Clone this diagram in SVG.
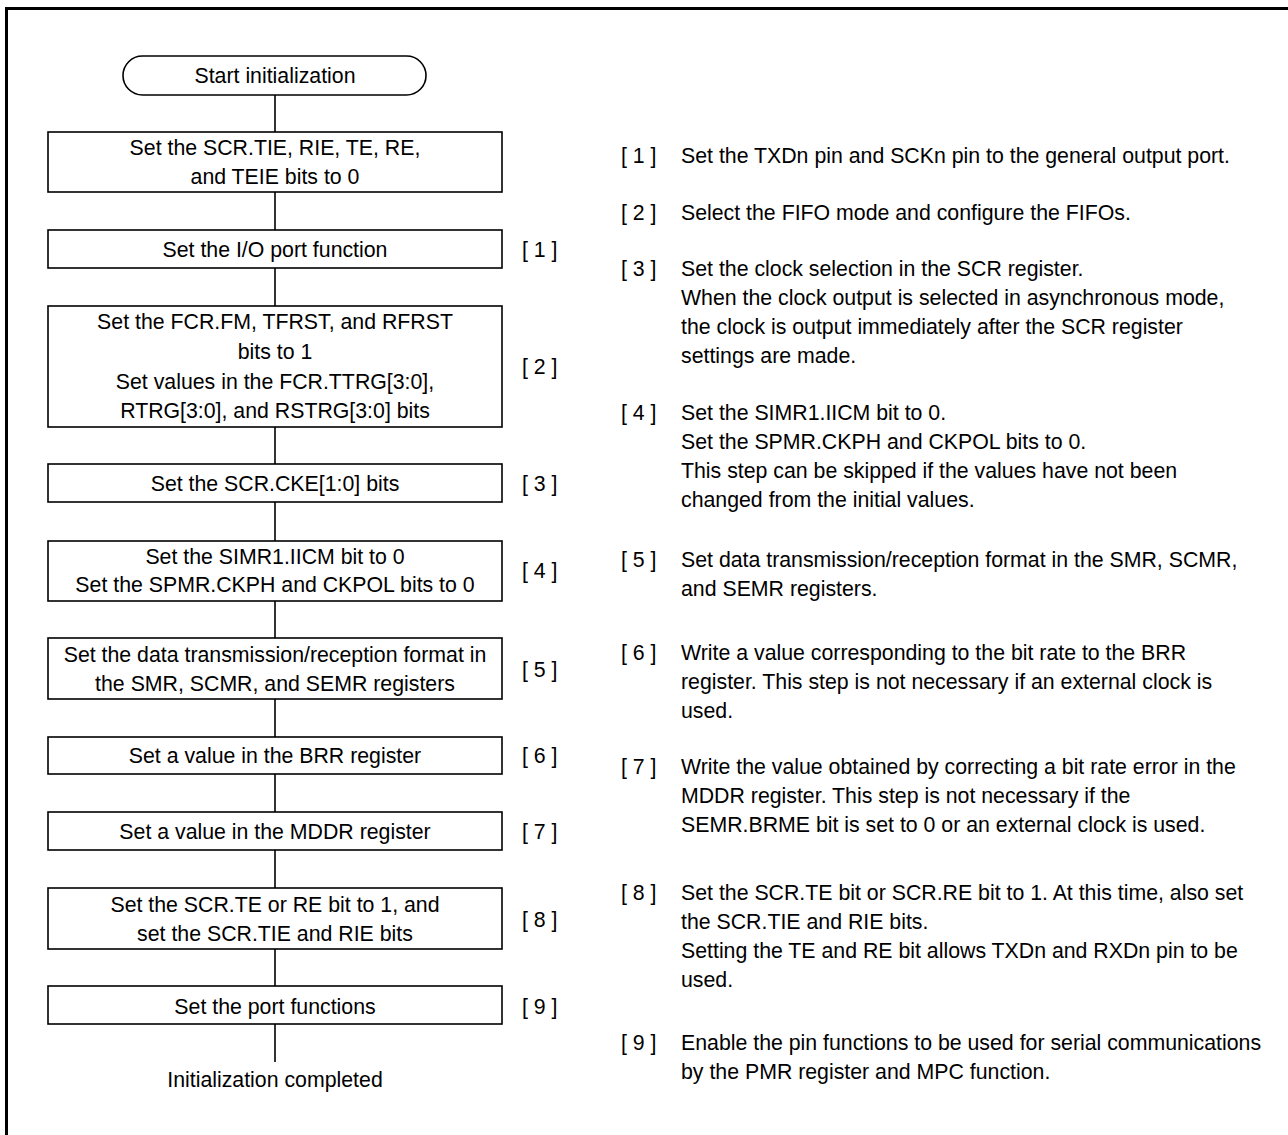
<svg xmlns="http://www.w3.org/2000/svg" width="1288" height="1135" viewBox="0 0 1288 1135">
<style>
text{font-family:"Liberation Sans",Arial,sans-serif;font-size:21.3px;fill:#000}
.c{text-anchor:middle}
.box{fill:#fff;stroke:#000;stroke-width:1.6}
.ln{stroke:#000;stroke-width:1.6;fill:none}
</style>
<rect width="1288" height="1135" fill="#fff"/>
<g id="frame">
<line x1="5" y1="8.5" x2="1288" y2="8.5" stroke="#000" stroke-width="3"/>
<line x1="6.5" y1="7" x2="6.5" y2="1135" stroke="#000" stroke-width="3"/>
</g>
<g id="connectors">
<line class="ln" x1="275" y1="95" x2="275" y2="132"/>
<line class="ln" x1="275" y1="192" x2="275" y2="230"/>
<line class="ln" x1="275" y1="268" x2="275" y2="306"/>
<line class="ln" x1="275" y1="427" x2="275" y2="464"/>
<line class="ln" x1="275" y1="502" x2="275" y2="541"/>
<line class="ln" x1="275" y1="601" x2="275" y2="638"/>
<line class="ln" x1="275" y1="699" x2="275" y2="737"/>
<line class="ln" x1="275" y1="774" x2="275" y2="812"/>
<line class="ln" x1="275" y1="850" x2="275" y2="888"/>
<line class="ln" x1="275" y1="949" x2="275" y2="986"/>
<line class="ln" x1="275" y1="1024" x2="275" y2="1062"/>
</g>
<g id="start">
<rect class="box" x="123" y="56" width="303" height="39" rx="19.5" ry="19.5"/>
<text class="c" x="275" y="83">Start initialization</text>
</g>
<g id="step0">
<rect class="box" x="48" y="132" width="454" height="60"/>
<text class="c" x="275" y="155">Set the SCR.TIE, RIE, TE, RE,</text>
<text class="c" x="275" y="184">and TEIE bits to 0</text>
</g>
<g id="step1">
<rect class="box" x="48" y="230" width="454" height="38"/>
<text class="c" x="275" y="257">Set the I/O port function</text>
<text x="522" y="257">[ 1 ]</text>
</g>
<g id="step2">
<rect class="box" x="48" y="306" width="454" height="121"/>
<text class="c" x="275" y="329">Set the FCR.FM, TFRST, and RFRST</text>
<text class="c" x="275" y="359">bits to 1</text>
<text class="c" x="275" y="389">Set values in the FCR.TTRG[3:0],</text>
<text class="c" x="275" y="418">RTRG[3:0], and RSTRG[3:0] bits</text>
<text x="522" y="374">[ 2 ]</text>
</g>
<g id="step3">
<rect class="box" x="48" y="464" width="454" height="38"/>
<text class="c" x="275" y="491">Set the SCR.CKE[1:0] bits</text>
<text x="522" y="491">[ 3 ]</text>
</g>
<g id="step4">
<rect class="box" x="48" y="541" width="454" height="60"/>
<text class="c" x="275" y="564">Set the SIMR1.IICM bit to 0</text>
<text class="c" x="275" y="592">Set the SPMR.CKPH and CKPOL bits to 0</text>
<text x="522" y="578">[ 4 ]</text>
</g>
<g id="step5">
<rect class="box" x="48" y="638" width="454" height="61"/>
<text class="c" x="275" y="662">Set the data transmission/reception format in</text>
<text class="c" x="275" y="691">the SMR, SCMR, and SEMR registers</text>
<text x="522" y="677">[ 5 ]</text>
</g>
<g id="step6">
<rect class="box" x="48" y="737" width="454" height="37"/>
<text class="c" x="275" y="763">Set a value in the BRR register</text>
<text x="522" y="763">[ 6 ]</text>
</g>
<g id="step7">
<rect class="box" x="48" y="812" width="454" height="38"/>
<text class="c" x="275" y="839">Set a value in the MDDR register</text>
<text x="522" y="839">[ 7 ]</text>
</g>
<g id="step8">
<rect class="box" x="48" y="888" width="454" height="61"/>
<text class="c" x="275" y="912">Set the SCR.TE or RE bit to 1, and</text>
<text class="c" x="275" y="941">set the SCR.TIE and RIE bits</text>
<text x="522" y="927">[ 8 ]</text>
</g>
<g id="step9">
<rect class="box" x="48" y="986" width="454" height="38"/>
<text class="c" x="275" y="1014">Set the port functions</text>
<text x="522" y="1014">[ 9 ]</text>
</g>
<g id="end">
<text class="c" x="275" y="1087">Initialization completed</text>
</g>
<g id="notes">
<text x="621" y="163">[ 1 ]</text>
<text x="681" y="163">Set the TXDn pin and SCKn pin to the general output port.</text>
<text x="621" y="220">[ 2 ]</text>
<text x="681" y="220">Select the FIFO mode and configure the FIFOs.</text>
<text x="621" y="276">[ 3 ]</text>
<text x="681" y="276">Set the clock selection in the SCR register.</text>
<text x="681" y="305">When the clock output is selected in asynchronous mode,</text>
<text x="681" y="334">the clock is output immediately after the SCR register</text>
<text x="681" y="363">settings are made.</text>
<text x="621" y="420">[ 4 ]</text>
<text x="681" y="420">Set the SIMR1.IICM bit to 0.</text>
<text x="681" y="449">Set the SPMR.CKPH and CKPOL bits to 0.</text>
<text x="681" y="478">This step can be skipped if the values have not been</text>
<text x="681" y="507">changed from the initial values.</text>
<text x="621" y="567">[ 5 ]</text>
<text x="681" y="567">Set data transmission/reception format in the SMR, SCMR,</text>
<text x="681" y="596">and SEMR registers.</text>
<text x="621" y="660">[ 6 ]</text>
<text x="681" y="660">Write a value corresponding to the bit rate to the BRR</text>
<text x="681" y="689">register. This step is not necessary if an external clock is</text>
<text x="681" y="718">used.</text>
<text x="621" y="774">[ 7 ]</text>
<text x="681" y="774">Write the value obtained by correcting a bit rate error in the</text>
<text x="681" y="803">MDDR register. This step is not necessary if the</text>
<text x="681" y="832">SEMR.BRME bit is set to 0 or an external clock is used.</text>
<text x="621" y="900">[ 8 ]</text>
<text x="681" y="900">Set the SCR.TE bit or SCR.RE bit to 1. At this time, also set</text>
<text x="681" y="929">the SCR.TIE and RIE bits.</text>
<text x="681" y="958">Setting the TE and RE bit allows TXDn and RXDn pin to be</text>
<text x="681" y="987">used.</text>
<text x="621" y="1050">[ 9 ]</text>
<text x="681" y="1050">Enable the pin functions to be used for serial communications</text>
<text x="681" y="1079">by the PMR register and MPC function.</text>
</g>
</svg>
